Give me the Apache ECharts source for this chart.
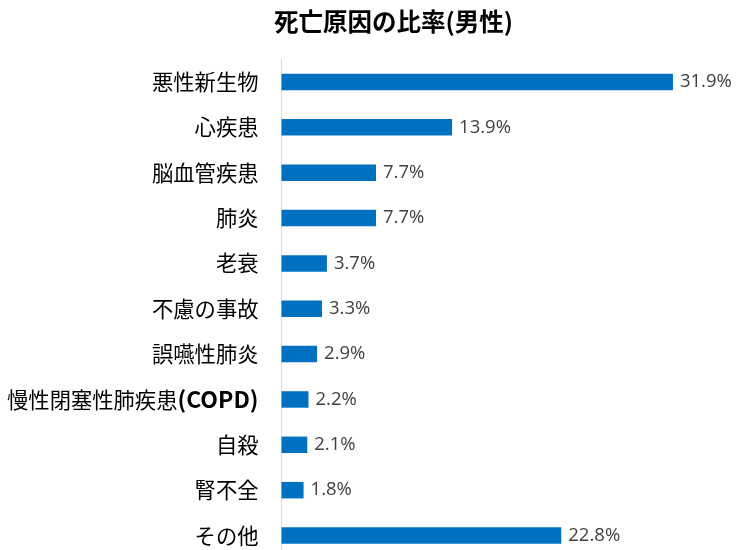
<!DOCTYPE html>
<html><head><meta charset="utf-8">
<script src="https://cdn.jsdelivr.net/npm/echarts@6/dist/echarts.min.js"></script>
<style>html,body{margin:0;padding:0;background:#fff}#c{width:739px;height:550px}</style>
</head><body><div id="c"></div>
<script>
const categories = ['悪性新生物','心疾患','脳血管疾患','肺炎','老衰','不慮の事故','誤嚥性肺炎','慢性閉塞性肺疾患(COPD)','自殺','腎不全','その他'];
const values = [31.9, 13.9, 7.7, 7.7, 3.7, 3.3, 2.9, 2.2, 2.1, 1.8, 22.8];
const titleText = '死亡原因の比率(男性)';

const chart = echarts.init(document.getElementById('c'), null, {renderer:'canvas'});
chart.setOption({
  animation: false,
  backgroundColor: '#ffffff',
  title: {
    text: titleText, left: 388.5, top: 4, textAlign: 'center',
    textStyle: {fontFamily: 'Noto Sans CJK JP', fontSize: 24.5, fontWeight: 'bold', color: '#000'}
  },
  grid: {left: 281.5, width: 429.5, top: 59.3, height: 498.9, containLabel: false, outerBoundsMode: 'none'},
  xAxis: {type: 'value', min: 0, max: 35, show: false},
  yAxis: {
    type: 'category', data: categories, inverse: true,
    axisLine: {show: true, lineStyle: {color: '#d9d9d9', width: 1}},
    axisTick: {show: false},
    axisLabel: {
      margin: 23, color: '#000', fontSize: 21.3, fontFamily: 'Noto Sans CJK JP',
      formatter: v => {
        const i = v.indexOf('(');
        return i >= 0 ? '{a|' + v.slice(0, i) + '}{b|' + v.slice(i) + '}' : '{a|' + v + '}';
      },
      rich: {
        a: {fontSize: 21.3, fontFamily: 'Noto Sans CJK JP', color: '#000'},
        b: {fontSize: 23, fontFamily: 'Noto Sans CJK JP', fontWeight: 'bold', color: '#000'}
      }
    }
  },
  series: [{
    type: 'bar', data: values, barWidth: 16.5,
    itemStyle: {color: '#0070C0'},
    label: {show: true, position: 'right', distance: 7, color: '#404040', fontSize: 18.5, fontFamily: 'Open Sans',
      formatter: p => p.value.toFixed(1) + '%'}
  }]
});
</script></body></html>
